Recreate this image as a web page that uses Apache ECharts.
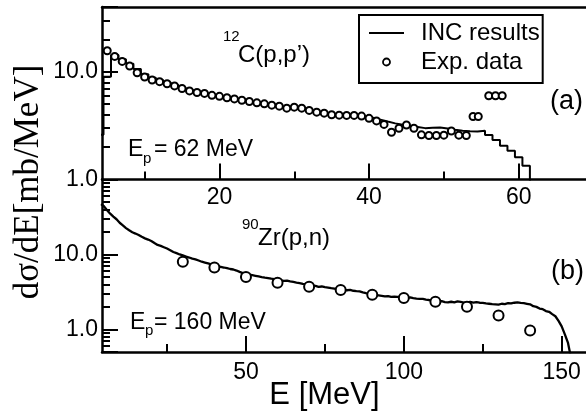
<!DOCTYPE html>
<html>
<head>
<meta charset="utf-8">
<script src="https://cdn.jsdelivr.net/npm/echarts@6/dist/echarts.min.js"></script>
<style>html,body{margin:0;padding:0;background:#fff}#c{width:586px;height:417px}</style>
</head>
<body>
<div id="c"></div>
<script>
// ---- panel (a): 12C(p,p') at Ep = 62 MeV ----
const topIncCenters = [4,5,6,7,8,9,10,11,12,13,14,15,16,17,18,19,20,21,22,23,24,25,26,27,28,29,30,31,32,33,34,35,36,37,38,39,40,41,42,43,44,45,46,47,48,49,50,51,52,53,54,55,56,57,58,59,60,61];
const topIncValues = [2.6,9.0,14.3,13.1,11.9,10.6,9.5,8.8,8.35,7.95,7.55,7.1,6.75,6.5,6.3,6.05,5.85,5.65,5.5,5.35,5.2,5.05,4.95,4.85,4.72,4.62,4.55,4.48,4.35,4.22,4.12,4.02,3.96,3.94,3.9,3.84,3.74,3.6,3.45,3.32,3.22,3.15,3.08,3.0,3.02,3.04,2.98,2.9,2.84,2.8,2.79,2.84,2.59,2.33,2.06,1.85,1.61,1.34];
const topExpE = [5,6,7,8,9,10,11,12,13,14,15,16,17,18,19,20,21,22,23,24,25,26,27,28,29,30,31,32,33,34,35,36,37,38,39,40,41,42,43,44,45,46,47,48,49,50,51,52,53,53.9,54.6,56,56.9,57.8];
const topExpV = [15.7,13.9,12.5,11.3,9.8,8.95,8.4,8.1,7.75,7.4,7.0,6.65,6.43,6.3,6.05,5.92,5.75,5.6,5.45,5.3,5.15,5.04,4.9,4.8,4.6,4.7,4.6,4.38,4.22,4.13,3.99,3.96,3.94,3.94,3.88,3.7,3.5,3.25,2.75,2.99,3.21,2.99,2.6,2.56,2.56,2.58,2.82,2.58,2.56,3.85,3.85,6.0,6.0,6.0];

// ---- panel (b): 90Zr(p,n) at Ep = 160 MeV ----
const botIncE = [4.1,5,6,7,8,9,10,11,12,13,14,15,16,17,18,19,20,21,22,23,24,25,26,27,28,29,30,31,32,33,34,35,36,37,38,39,40,41,42,43,44,45,46,47,48,49,50,51,52,53,54,55,56,57,58,59,60,61,62,63,64,65,66,67,68,69,70,71,72,73,74,75,76,77,78,79,80,81,82,83,84,85,86,87,88,89,90,91,92,93,94,95,96,97,98,99,100,101,102,103,104,105,106,107,108,109,110,111,112,113,114,115,116,117,118,119,120,121,122,123,124,125,126,127,128,129,130,131,132,133,134,135,136,137,138,139,140,141,142,143,144,145,146,147,148,149,150,151,152,152.8];
const botIncV = [47,44,39,35,32,29.5,26.5,24.5,22.5,21,19.8,19,18.2,17.2,16.4,15.8,15.1,14.2,13.4,13,12.5,12,11.4,10.8,10.4,10.0,9.7,9.4,9.1,8.8,8.6,8.3,8.0,7.8,7.6,7.4,7.25,7.0,6.85,6.7,6.55,6.4,6.3,6.1,5.85,5.65,5.55,5.4,5.3,5.2,5.1,5.0,4.92,4.85,4.75,4.7,4.6,4.52,4.45,4.48,4.38,4.3,4.22,4.16,4.05,4.02,3.95,3.85,3.82,3.7,3.74,3.66,3.62,3.55,3.5,3.44,3.4,3.42,3.33,3.36,3.28,3.24,3.22,3.12,3.06,3.02,2.95,2.88,2.84,2.8,2.76,2.78,2.72,2.74,2.72,2.7,2.7,2.64,2.68,2.62,2.58,2.55,2.56,2.5,2.47,2.45,2.4,2.36,2.38,2.32,2.3,2.34,2.3,2.36,2.33,2.28,2.3,2.33,2.28,2.32,2.27,2.26,2.22,2.2,2.17,2.16,2.14,2.2,2.18,2.24,2.22,2.27,2.3,2.26,2.24,2.2,2.16,2.04,2.0,1.9,1.86,1.76,1.72,1.6,1.5,1.3,1.1,0.86,0.66,0.45];
const botExpE = [30,40,50,60,70,80,90,100,110,120,130,140];
const botExpV = [8.0,6.7,5.0,4.2,3.7,3.35,2.9,2.63,2.34,2.01,1.53,0.97];

// ---- ticks ----
const topXTicks = [20,40,60];
const topXMinor = [10,30,50];
const botXTicks = [50,100,150];
const botXMinor = [25,75,125];
const topYMinor = [2,3,4,5,6,7,8,9,20,30];
const botYMinor = [0.6,0.7,0.8,0.9,2,3,4,5,6,7,8,9,20,30,40,50,60,70,80,90];

const FONT = 'Liberation Sans';
const BLK = '#000';

// histogram as step line from bin left edges
const topIncData = topIncCenters.map((c,i)=>[c-0.5, topIncValues[i]]);
topIncData.push([topIncCenters[topIncCenters.length-1]+0.5, 0.5]);
const topExpData = topExpE.map((e,i)=>[e, topExpV[i]]);
const botIncData = botIncE.map((e,i)=>[e, botIncV[i]]);
const botExpData = botExpE.map((e,i)=>[e, botExpV[i]]);

function yFmt(v){
  if (Math.abs(v-1) < 1e-6) return '1.0';
  if (Math.abs(v-10) < 1e-6) return '10.0';
  return '';
}

const axLine = {show:true, onZero:false, lineStyle:{color:BLK, width:2.5}};
const noLine = {show:false, onZero:false};
function xMain(grid, min, max, ticks, margin){
  return {type:'value', gridIndex:grid, min, max, position:'bottom',
    axisLine:axLine,
    axisTick:{show:true, inside:true, length:16, customValues:ticks, lineStyle:{color:BLK,width:2}},
    axisLabel:{show:true, customValues:ticks, fontSize:23, fontFamily:FONT, color:BLK, margin},
    splitLine:{show:false}};
}
function xMinor(grid, min, max, ticks){
  return {type:'value', gridIndex:grid, min, max, position:'bottom',
    axisLine:noLine,
    axisTick:{show:true, inside:true, length:8, customValues:ticks, lineStyle:{color:BLK,width:2}},
    axisLabel:{show:false}, splitLine:{show:false}};
}
function yMain(grid, min, max){
  return {type:'log', logBase:10, gridIndex:grid, min, max, position:'left',
    axisLine:axLine,
    axisTick:{show:true, inside:true, length:16, lineStyle:{color:BLK,width:2}},
    axisLabel:{show:true, formatter:yFmt, fontSize:23, fontFamily:FONT, color:BLK, margin:4},
    splitLine:{show:false}, minorTick:{show:false}};
}
function yMinor(grid, min, max, ticks){
  return {type:'value', gridIndex:grid, min:Math.log10(min), max:Math.log10(max), position:'left',
    axisLine:noLine,
    axisTick:{show:true, inside:true, length:8, customValues:ticks.map(Math.log10), lineStyle:{color:BLK,width:2}},
    axisLabel:{show:false}, splitLine:{show:false}};
}

function txt(x, y, text, size, extra){
  return Object.assign({type:'text', x, y, z:100,
    style:{text, fontSize:size, fontFamily:FONT, fill:BLK, align:'left', verticalAlign:'middle'}}, extra||{});
}

const chart = echarts.init(document.getElementById('c'), null, {renderer:'canvas'});
chart.setOption({
  backgroundColor:'#fff',
  animation:false,
  grid:[
    {left:102, right:0, top:7, height:172.5},
    {left:102, right:0, top:179.5, height:172.5}
  ],
  xAxis:[
    xMain(0, 4.3, 69, topXTicks, 7),
    xMinor(0, 4.3, 69, topXMinor),
    {type:'value', gridIndex:0, min:4.3, max:69, position:'top', axisLine:axLine,
      axisTick:{show:false}, axisLabel:{show:false}, splitLine:{show:false}},
    xMain(1, 4.4, 157.7, botXTicks, 9),
    xMinor(1, 4.4, 157.7, botXMinor)
  ],
  yAxis:[
    yMain(0, 1, 40),
    yMinor(0, 1, 40, topYMinor),
    yMain(1, 0.5, 100),
    yMinor(1, 0.5, 100, botYMinor)
  ],
  legend:{
    orient:'vertical', left:359, top:15,
    itemWidth:35, itemHeight:7, itemGap:5,
    padding:[6,3,9,10],
    borderColor:BLK, borderWidth:2, borderRadius:0,
    selectedMode:false,
    textStyle:{fontSize:24, fontFamily:FONT, color:BLK, padding:[0,0,0,12]},
    data:[
      {name:'INC results', icon:'path://M0,0H35V2H0Z', itemStyle:{color:BLK, borderWidth:0}},
      {name:'Exp. data', icon:'circle', itemStyle:{color:'#fff', borderColor:BLK, borderWidth:1.8, opacity:1}}
    ]
  },
  series:[
    {name:'INC results', type:'line', xAxisIndex:0, yAxisIndex:0, step:'end', data:topIncData,
      symbol:'none', lineStyle:{color:BLK, width:2}, itemStyle:{color:BLK}, z:3},
    {name:'Exp. data', type:'scatter', xAxisIndex:0, yAxisIndex:0, data:topExpData,
      symbol:'circle', symbolSize:7, itemStyle:{color:'#fff', borderColor:BLK, borderWidth:2, opacity:1}, z:4},
    {name:'INC results', type:'line', xAxisIndex:3, yAxisIndex:2, data:botIncData,
      symbol:'none', lineStyle:{color:BLK, width:2.3}, itemStyle:{color:BLK}, z:3},
    {name:'Exp. data', type:'scatter', xAxisIndex:3, yAxisIndex:2, data:botExpData,
      symbol:'circle', symbolSize:10, itemStyle:{color:'#fff', borderColor:BLK, borderWidth:2, opacity:1}, z:4}
  ],
  graphic:[
    txt(223, 37, '12', 15),
    txt(238, 55, 'C(p,p’)', 24),
    txt(128, 150, 'E', 23),
    txt(143, 158.5, 'p', 15),
    txt(154, 150, '= 62 MeV', 23),
    txt(242, 225, '90', 15),
    txt(258, 238, 'Zr(p,n)', 24),
    txt(130, 323, 'E', 23),
    txt(145, 331, 'p', 15),
    txt(154, 323, '= 160 MeV', 23),
    txt(550, 102, '(a)', 27),
    txt(551, 272, '(b)', 27),
    {type:'text', x:324.5, y:395, z:100,
      style:{text:'E [MeV]', fontSize:31, fontFamily:FONT, fill:BLK, align:'center', verticalAlign:'middle'}},
    {type:'text', x:29, y:182, rotation:Math.PI/2, z:100,
      style:{text:'dσ/dE[mb/MeV]', fontSize:35, fontFamily:'Liberation Serif', fill:BLK, align:'center', verticalAlign:'middle'}}
  ]
});
</script>
</body>
</html>
